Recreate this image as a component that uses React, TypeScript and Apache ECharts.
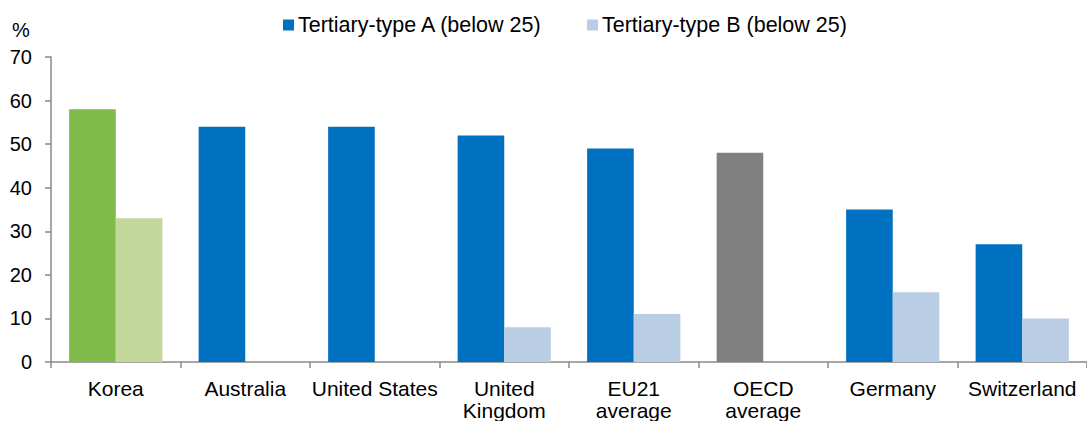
import React, { useEffect, useRef } from "react";
import * as echarts from "echarts";

const categories = ["Korea", "Australia", "United States", "United\nKingdom", "EU21\naverage", "OECD\naverage", "Germany", "Switzerland"];
const typeA = [58, 54, 54, 52, 49, 48, 35, 27];
const typeB = [33, 0, 0, 8, 11, 0, 16, 10];
const yTicks = [0, 10, 20, 30, 40, 50, 60, 70];

const BLUE = "#0070C0";
const LIGHT_BLUE = "#B9CDE5";
const colorA = (i: number) => (i === 0 ? "#7FBA4A" : i === 5 ? "#808080" : BLUE);
const colorB = (i: number) => (i === 0 ? "#C4D79B" : LIGHT_BLUE);

export default function App() {
  const ref = useRef<HTMLDivElement>(null);
  useEffect(() => {
    const chart = echarts.init(ref.current!, null, { renderer: "svg" });
    const font = "'Liberation Sans', Arial, sans-serif";
    chart.setOption({
      animation: false,
      textStyle: { fontFamily: font },
      legend: {
        top: 9,
        left: 278,
        itemWidth: 11,
        itemHeight: 11,
        itemGap: 44,
        icon: "rect",
        textStyle: { fontSize: 21.5, color: "#000", fontFamily: font, padding: [0, 0, 0, -1] },
        data: ["Tertiary-type A (below 25)", "Tertiary-type B (below 25)"],
      },
      graphic: [
        { type: "text", left: 12, top: 20, style: { text: "%", fontSize: 20, fill: "#000", fontFamily: font } },
      ],
      grid: { left: 51, top: 57, width: 1045, bottom: 59 },
      xAxis: {
        type: "category",
        data: categories,
        axisLine: { lineStyle: { color: "#898989", width: 1.5 } },
        axisTick: { show: true, length: 6, lineStyle: { color: "#898989", width: 1.5 } },
        axisLabel: { fontSize: 21, color: "#000", margin: 15, lineHeight: 22, fontFamily: font, interval: 0 },
      },
      yAxis: {
        type: "value",
        min: 0,
        max: 70,
        interval: 10,
        splitLine: { show: false },
        axisLine: { show: true, lineStyle: { color: "#898989", width: 1.5 } },
        axisTick: { show: true, length: 6, lineStyle: { color: "#898989", width: 1.5 } },
        axisLabel: { fontSize: 20, color: "#000", margin: 19, fontFamily: font, formatter: (v: number) => (yTicks.includes(v) ? String(v) : "") },
      },
      series: [
        {
          name: "Tertiary-type A (below 25)",
          type: "bar",
          barGap: "0%",
          barCategoryGap: "28%",
          itemStyle: { color: BLUE },
          data: typeA.map((v, i) => ({ value: v, itemStyle: { color: colorA(i) } })),
        },
        {
          name: "Tertiary-type B (below 25)",
          type: "bar",
          itemStyle: { color: LIGHT_BLUE },
          data: typeB.map((v, i) => ({ value: v, itemStyle: { color: colorB(i) } })),
        },
      ],
    });
    return () => chart.dispose();
  }, []);
  return <div ref={ref} style={{ width: 1087, height: 421, position: "absolute", left: 0, top: 0 }} />;
}
